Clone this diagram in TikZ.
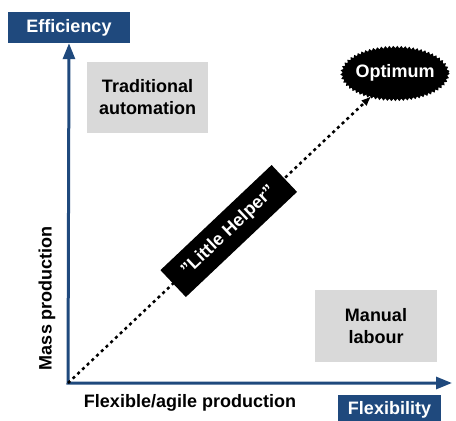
\documentclass[tikz,border=0pt]{standalone}
\usepackage{fontspec}
\setmainfont{Liberation Sans}
\usetikzlibrary{arrows.meta,shapes.geometric,decorations.pathmorphing}
\definecolor{axisblue}{RGB}{31,73,125}
\definecolor{boxgray}{RGB}{217,217,217}

\begin{document}
\begin{tikzpicture}[
                        x=1pt, y=-1pt,
                        font=\fontsize{18}{22}\selectfont\bfseries,
                        >={Triangle[length=16pt,width=12pt]}
                    ]
                    \useasboundingbox (0,0) rectangle (456,421);
                    % Blocks
                    \node [coordinate] (origin) at (68,383) {};
                    \node [coordinate] (xend) at (452,383) {};
                    \node [rectangle, fill=axisblue, text=white, minimum width=122pt, minimum height=31pt, inner sep=0pt] (eff) at (69,27.5) {Efficiency};
                    \node [rectangle, fill=axisblue, text=white, minimum width=103pt, minimum height=30pt, inner sep=0pt] (flex) at (389.5,410) {Flexibility};
                    \node [rectangle, fill=boxgray, minimum width=121pt, minimum height=71pt, align=center] (trad) at (147.5,97.5) {Traditional\\automation};
                    \node [rectangle, fill=boxgray, minimum width=122pt, minimum height=72pt, align=center] (manual) at (376,326) {Manual\\labour};
                    \fill [decorate, decoration={snake, segment length=4pt, amplitude=1.2pt}] (395,72.5) ellipse [x radius=53.5, y radius=26.5];
                    \node [ellipse, text=white, inner sep=0pt, minimum width=106pt, minimum height=52pt] (opt) at (395,72.5) {Optimum};
                    \node [rotate=90] (mass) at (47,298) {Mass production};
                    \node (agile) at (190,403) {Flexible/agile production};

                    % Connections
                    \draw [<->, axisblue, line width=3pt] (eff.south) -- (origin) -- (xend);
                    \draw [-{Latex[length=10pt,width=8pt]}, line width=2.5pt, dash pattern=on 3pt off 3.5pt] (origin) -- (opt.225)
                        node [pos=0.53, sloped, fill=black, text=white, minimum width=153pt, minimum height=37pt, inner sep=0pt] (helper) {”Little Helper”};
                \end{tikzpicture}
\end{document}
